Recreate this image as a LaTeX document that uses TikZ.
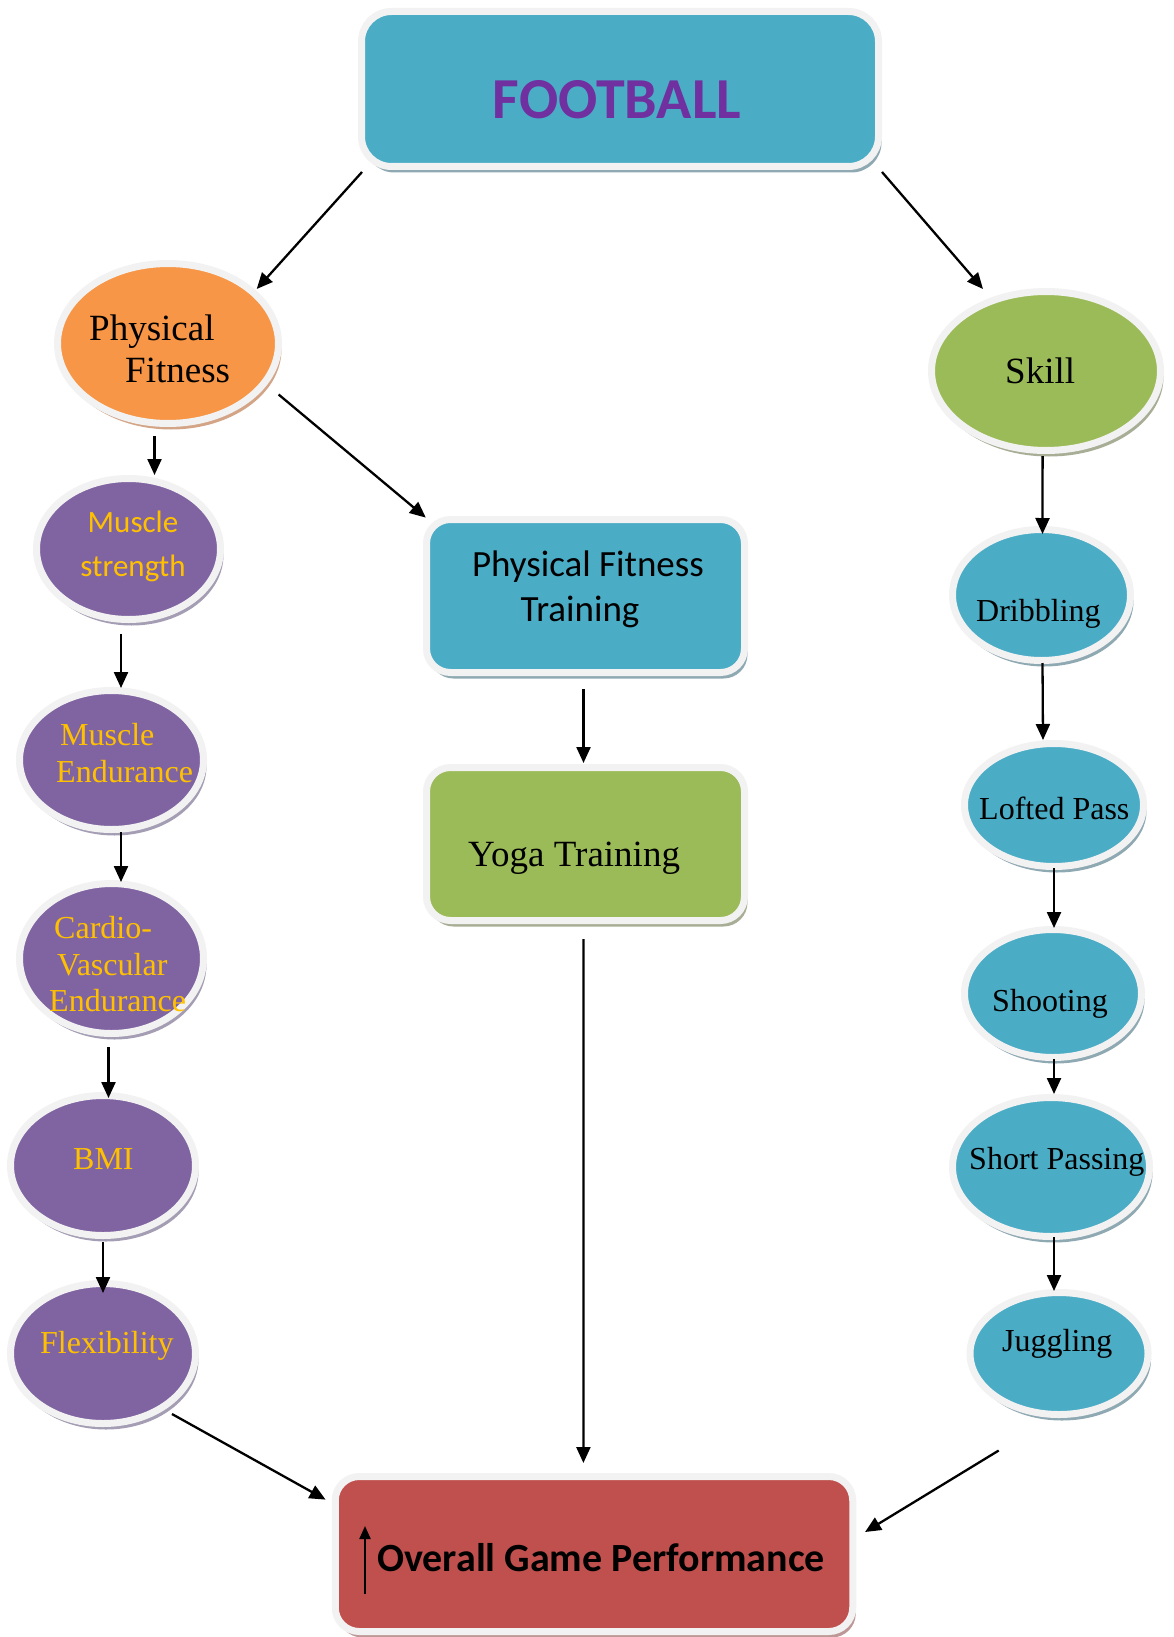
\documentclass[tikz,border=0pt]{standalone}
\usepackage{fontspec}
\setmainfont{Liberation Serif}
\newfontfamily\carlito{Carlito}
\usetikzlibrary{shapes.geometric,shadows,arrows.meta}

\definecolor{ringgray}{HTML}{F2F2F2}
\definecolor{tealblue}{HTML}{4BACC6}
\definecolor{tealshade}{HTML}{8FA9B3}
\definecolor{orangefill}{HTML}{F79646}
\definecolor{orangeshade}{HTML}{D3A586}
\definecolor{greenfill}{HTML}{9BBB59}
\definecolor{greenshade}{HTML}{A7AE95}
\definecolor{purplefill}{HTML}{8064A2}
\definecolor{purpleshade}{HTML}{A49DB3}
\definecolor{redfill}{HTML}{C0504D}
\definecolor{redshade}{HTML}{BE9896}
\definecolor{goldtext}{HTML}{FFC000}
\definecolor{titlepurple}{HTML}{7030A0}

\newcommand\setpx[1]{\fontsize{#1pt}{#1pt}\selectfont}

\tikzset{
  ringed/.style={draw=ringgray, line width=7pt, inner sep=0pt,
    drop shadow={shadow xshift=3pt, shadow yshift=-6pt, opacity=1, fill=#1}},
  bubble/.style 2 args={ellipse, ringed=#2, fill=#1},
  panel/.style 2 args={rectangle, rounded corners=24pt, ringed=#2, fill=#1},
  arr/.style={-{Triangle[length=16pt,width=14pt]}, line width=2.3pt},
  lbl/.style={inner sep=0pt, anchor=base west},
  serifgold/.style={lbl, font=\setpx{32}, text=goldtext},
  serifblack/.style={lbl, font=\setpx{32}},
}

\begin{document}
\begin{tikzpicture}[x=1pt,y=-1pt]
  \fill[white] (0,0) rectangle (1173,1637);
  \useasboundingbox (0,0) rectangle (1173,1637);

  % boxes
  \node[panel={tealblue}{tealshade}, minimum width=517pt, minimum height=155pt, rounded corners=30pt] (fb) at (620,89) {};
  \node[panel={tealblue}{tealshade}, minimum width=318pt, minimum height=153pt] (pft) at (585.5,596) {};
  \node[panel={greenfill}{greenshade}, minimum width=318pt, minimum height=153pt] (yoga) at (585.5,844) {};
  \node[panel={redfill}{redshade}, minimum width=517.5pt, minimum height=155pt] (ogp) at (594,1554) {};

  % left column
  \node[bubble={orangefill}{orangeshade}, minimum width=221pt, minimum height=160pt] (pf) at (168,343.5) {};
  \node[bubble={purplefill}{purpleshade}, minimum width=184pt, minimum height=141pt] (ms) at (128.5,549) {};
  \node[bubble={purplefill}{purpleshade}, minimum width=184pt, minimum height=139pt] (me) at (111.5,760) {};
  \node[bubble={purplefill}{purpleshade}, minimum width=184pt, minimum height=150pt] (cv) at (111.5,958.5) {};
  \node[bubble={purplefill}{purpleshade}, minimum width=185pt, minimum height=140pt] (bmi) at (103,1165.5) {};
  \node[bubble={purplefill}{purpleshade}, minimum width=185pt, minimum height=140pt] (fx) at (103,1353.5) {};

  % right column
  \node[bubble={greenfill}{greenshade}, minimum width=229pt, minimum height=159pt] (sk) at (1046,371) {};
  \node[bubble={tealblue}{tealshade}, minimum width=178pt, minimum height=131pt] (dr) at (1041.5,595) {};
  \node[bubble={tealblue}{tealshade}, minimum width=179pt, minimum height=123pt] (lp) at (1054,805) {};
  \node[bubble={tealblue}{tealshade}, minimum width=177pt, minimum height=128pt] (sh) at (1053,993.5) {};
  \node[bubble={tealblue}{tealshade}, minimum width=197pt, minimum height=139pt] (sp) at (1051,1167) {};
  \node[bubble={tealblue}{tealshade}, minimum width=178pt, minimum height=122pt] (jg) at (1059,1353.5) {};

  % labels
  \node[inner sep=0pt, anchor=base, font=\carlito\bfseries\setpx{58}, text=titlepurple] (fbtext) at (617,119) {FOOTBALL};
  \node[lbl, font=\setpx{37}] (pfa) at (89,340) {Physical};
  \node[lbl, font=\setpx{37}] (pfb) at (125,382) {Fitness};
  \node[lbl, font=\setpx{37}] (sktext) at (1005,383) {Skill};
  \node[inner sep=0pt, anchor=base, font=\carlito\setpx{31}, text=goldtext] (msa) at (133,532) {Muscle};
  \node[inner sep=0pt, anchor=base, font=\carlito\setpx{31}, text=goldtext] (msb) at (133,576) {strength};
  \node[serifgold] (mea) at (60,745) {Muscle};
  \node[serifgold] (meb) at (56,782) {Endurance};
  \node[serifgold] (cva) at (54,938) {Cardio-};
  \node[serifgold] (cvb) at (57,975) {Vascular};
  \node[serifgold] (cvc) at (49,1011) {Endurance};
  \node[serifgold] (bmitext) at (73,1169) {BMI};
  \node[serifgold] (fxtext) at (40,1353) {Flexibility};
  \node[inner sep=0pt, anchor=base, font=\carlito\setpx{37}] (pfta) at (588,576) {Physical Fitness};
  \node[inner sep=0pt, anchor=base, font=\carlito\setpx{37}] (pftb) at (580,621) {Training};
  \node[lbl, font=\setpx{37}] (yogatext) at (468,866) {Yoga Training};
  \node[lbl, font=\carlito\bfseries\setpx{40}] (ogptext) at (377,1571) {Overall Game Performance};
  \node[serifblack] (drtext) at (976,621) {Dribbling};
  \node[serifblack] (lptext) at (979,819) {Lofted Pass};
  \node[serifblack] (shtext) at (992,1011) {Shooting};
  \node[serifblack] (sptext) at (969,1169) {Short Passing};
  \node[serifblack] (jgtext) at (1002,1351) {Juggling};

  % upward arrow inside the performance box
  \draw[-{Triangle[length=13pt,width=11pt]}, line width=2.2pt]
    ([shift={(-229,40)}]ogp.center) -- ([shift={(-229,-28)}]ogp.center);

  % connectors
  \draw[arr] ([shift={(-258,83)}]fb.center) -- ([shift={(88.7,-54.5)}]pf.center);
  \draw[arr] ([shift={(262,83)}]fb.center) -- ([shift={(-63,-82)}]sk.center);
  \draw[arr] ([shift={(-13.5,92.5)}]pf.center) -- ([shift={(26,-74)}]ms.center);
  \draw[arr] ([shift={(110.6,51)}]pf.center) -- ([shift={(-159.7,-78.4)}]pft.center);
  \draw[arr] ([shift={(-7.5,84.5)}]ms.center) -- ([shift={(9.5,-72)}]me.center);
  \draw[arr] ([shift={(9.5,72)}]me.center) -- ([shift={(9.5,-76.5)}]cv.center);
  \draw[arr] ([shift={(-3,88.5)}]cv.center) -- ([shift={(5.5,-67.5)}]bmi.center);
  \draw[arr] ([shift={(0,76.5)}]bmi.center) -- ([shift={(0,-60.5)}]fx.center);
  \draw[arr] ([shift={(69,60.5)}]fx.center) -- ([shift={(-268.4,-54.4)}]ogp.center);
  \draw[arr] ([shift={(-2,93)}]pft.center) -- ([shift={(-2,-81)}]yoga.center);
  \draw[arr] ([shift={(-2,95)}]yoga.center) -- ([shift={(-10.6,-91)}]ogp.center);
  \draw[arr] ([shift={(-3.4,85)}]sk.center) -- ([shift={(1,-61)}]dr.center);
  \draw[arr] ([shift={(1,68)}]dr.center) -- ([shift={(-11,-65)}]lp.center);
  \draw[arr] ([shift={(0,63)}]lp.center) -- ([shift={(1,-65.5)}]sh.center);
  \draw[arr] ([shift={(1,65.5)}]sh.center) -- ([shift={(3,-73)}]sp.center);
  \draw[arr] ([shift={(3,70)}]sp.center) -- ([shift={(-5,-62.5)}]jg.center);
  \draw[arr] ([shift={(-60.3,97)}]jg.center) -- ([shift={(271,-22)}]ogp.center);
\end{tikzpicture}
\end{document}
